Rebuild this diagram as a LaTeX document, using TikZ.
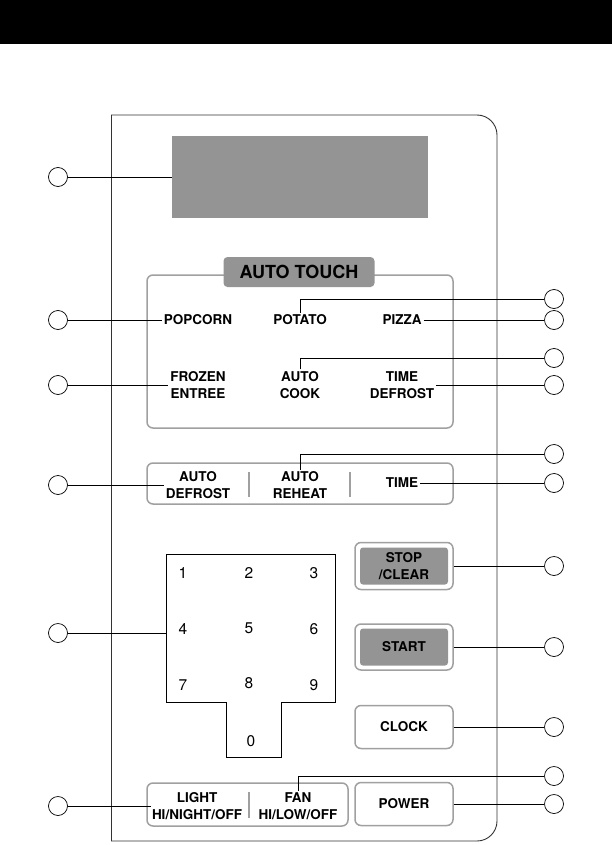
\documentclass[tikz,border=0pt]{standalone}
\usepackage{fontspec}
\newfontfamily\panelfont{TeX Gyre Heros}
\newcommand\keyfont{\panelfont\bfseries\fontsize{13.5}{16.5}\selectfont}
\newcommand\titlefont{\panelfont\bfseries\fontsize{18}{20}\selectfont}
\newcommand\padfont{\panelfont\fontsize{15.5}{17}\selectfont}
\definecolor{framegray}{RGB}{160,160,160}
\definecolor{padgray}{RGB}{148,148,148}
\tikzset{
  callout/.style={circle, draw, line width=0.7pt, minimum size=19pt, inner sep=0pt},
  lead/.style={line width=0.8pt},
  keylabel/.style={font=\keyfont, align=center, inner sep=2pt},
  panel/.style={draw=framegray, line width=1.5pt, rounded corners=6pt},
  divider/.style={draw=framegray, line width=1.3pt},
  btnbox/.style={draw=framegray, line width=1.5pt, rounded corners=6pt,
    minimum width=98pt, minimum height=46pt, inner sep=0pt, font=\keyfont, align=center},
  btnface/.style={fill=padgray, rounded corners=3pt, minimum width=88pt, minimum height=37pt}
}
\begin{document}
\begin{tikzpicture}[x=1pt, y=-1pt]
    \useasboundingbox (0,0) rectangle (612,845);
    % Bandeau noir en haut
    \fill (0,0) rectangle (612,44);

    % Contour du panneau
    \draw[line width=0.9pt, black!80] (111,841) -- (111,115);
    \draw[line width=0.9pt, black!80, rounded corners=20pt] (111,115) -- (497,115) -- (497,841) -- (111,841);

    % Afficheur
    \node[fill=padgray, minimum width=256pt, minimum height=82pt, inner sep=0pt] (display) at (300,177) {};
    \node[callout] (cDisplay) at (58,177) {};
    \draw[lead] (cDisplay) -- (display.west);

    % Cadre AUTO TOUCH
    \draw[panel] (147,275) rectangle (453,428);
    \node[fill=padgray, rounded corners=4pt, minimum width=151pt, minimum height=30pt,
          inner sep=0pt, font=\titlefont] (autotouch) at (299,272) {AUTO TOUCH};

    \node[keylabel] (popcorn) at (198,320) {POPCORN};
    \node[keylabel] (potato) at (300,320) {POTATO};
    \node[keylabel] (pizza) at (402,320) {PIZZA};
    \node[keylabel] (frozen) at (198,385) {FROZEN\\ENTREE};
    \node[keylabel] (autocook) at (300,385) {AUTO\\COOK};
    \node[keylabel] (timedefrost) at (402,385) {TIME\\DEFROST};

    \node[callout] (cPopcorn) at (58,320) {};
    \node[callout] (cFrozen) at (58,385) {};
    \node[callout] (cPotato) at (554,299) {};
    \node[callout] (cPizza) at (554,320) {};
    \node[callout] (cAutocook) at (554,358) {};
    \node[callout] (cTimedefrost) at (554,385) {};
    \draw[lead] (cPopcorn) -- (popcorn.west);
    \draw[lead] (cFrozen) -- (frozen.west);
    \draw[lead] (potato.north) |- (cPotato.west);
    \draw[lead] (pizza.east) -- (cPizza);
    \draw[lead] (autocook.north) |- (cAutocook.west);
    \draw[lead] (timedefrost.east) -- (cTimedefrost);

    % Rangee AUTO DEFROST / AUTO REHEAT / TIME
    \draw[panel] (147,463) rectangle (453,504);
    \draw[divider] (249,472) -- (249,497);
    \draw[divider] (350,472) -- (350,497);
    \node[keylabel] (autodefrost) at (198,485) {AUTO\\DEFROST};
    \node[keylabel] (reheat) at (300,485) {AUTO\\REHEAT};
    \node[keylabel] (time) at (402,483) {TIME};
    \node[callout] (cAutodefrost) at (58,485) {};
    \node[callout] (cReheat) at (554,454) {};
    \node[callout] (cTime) at (554,483) {};
    \draw[lead] (cAutodefrost) -- (autodefrost.west);
    \draw[lead] (reheat.north) |- (cReheat.west);
    \draw[lead] (time.east) -- (cTime);

    % Pave numerique
    \draw[line width=0.9pt] (166,554) -- (335,554) -- (335,702) -- (281,702) -- (281,757)
        -- (226,757) -- (226,702) -- (166,702) -- cycle;
    \coordinate (padLeft) at (166,633);
    \node[font=\padfont] (k1) at (183,573) {1};
    \node[font=\padfont] (k2) at (249,573) {2};
    \node[font=\padfont] (k3) at (314,573) {3};
    \node[font=\padfont] (k4) at (183,629) {4};
    \node[font=\padfont] (k5) at (249,628) {5};
    \node[font=\padfont] (k6) at (314,629) {6};
    \node[font=\padfont] (k7) at (183,685) {7};
    \node[font=\padfont] (k8) at (249,683) {8};
    \node[font=\padfont] (k9) at (314,685) {9};
    \node[font=\padfont] (k0) at (251,741) {0};
    \node[callout] (cPad) at (58,633) {};
    \draw[lead] (cPad) -- (padLeft);

    % Touches de droite
    \node[btnface] at (404,566) {};
    \node[btnbox, minimum height=47pt] (stop) at (404,566) {STOP\\/CLEAR};
    \node[btnface] at (404,647) {};
    \node[btnbox] (start) at (404,647) {START};
    \node[btnbox, minimum height=43pt] (clock) at (404,727) {CLOCK};
    \node[callout] (cStop) at (554,566) {};
    \node[callout] (cStart) at (554,647) {};
    \node[callout] (cClock) at (554,727) {};
    \draw[lead] (stop.east) -- (cStop);
    \draw[lead] (start.east) -- (cStart);
    \draw[lead] (clock.east) -- (cClock);

    % Rangee du bas
    \draw[panel] (147,783) rectangle (348,826);
    \draw[divider] (249,792) -- (249,818);
    \node[keylabel, inner sep=0.5pt] (light) at (197,806) {LIGHT\\HI/NIGHT/OFF};
    \node[keylabel] (fan) at (298,806) {FAN\\HI/LOW/OFF};
    \node[btnbox, minimum height=43pt] (power) at (404,804) {POWER};
    \node[callout] (cLight) at (58,806) {};
    \node[callout] (cFan) at (554,776) {};
    \node[callout] (cPower) at (554,804) {};
    \draw[lead] (cLight) -- (light.west);
    \draw[lead] (fan.north) |- (cFan.west);
    \draw[lead] (power.east) -- (cPower);
\end{tikzpicture}
\end{document}
